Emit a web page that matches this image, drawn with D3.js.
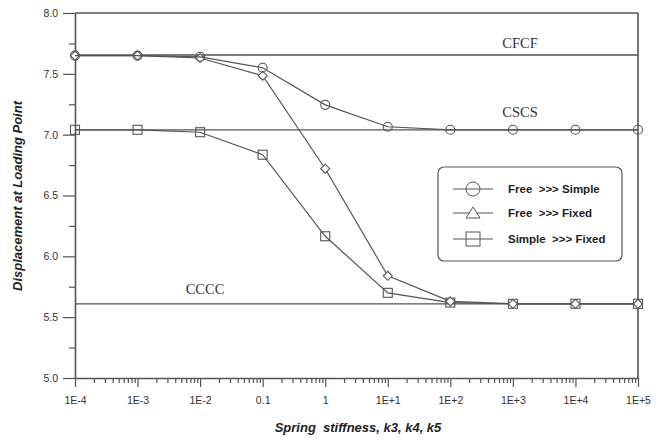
<!DOCTYPE html>
<html><head><meta charset="utf-8">
<script src="https://cdn.jsdelivr.net/npm/d3@7"></script>
<style>body{margin:0;background:#fff}svg{display:block}</style>
</head><body>
<svg id="c" width="667" height="442"></svg>
<script>
const xValues = [1e-4, 1e-3, 1e-2, 0.1, 1, 10, 100, 1000, 1e4, 1e5];
const xTickLabels = ["1E-4","1E-3","1E-2","0.1","1","1E+1","1E+2","1E+3","1E+4","1E+5"];
const yTicks = [5.0, 5.5, 6.0, 6.5, 7.0, 7.5, 8.0];
const freeSimple = [7.65, 7.65, 7.64, 7.55, 7.245, 7.065, 7.04, 7.04, 7.04, 7.04];
const freeFixed  = [7.65, 7.65, 7.63, 7.485, 6.72, 5.84, 5.63, 5.61, 5.61, 5.61];
const simpleFixed= [7.04, 7.04, 7.02, 6.835, 6.165, 5.70, 5.62, 5.61, 5.61, 5.61];
const refNames = ["CFCF","CSCS","CCCC"];
const refValues = [7.655, 7.04, 5.61];
const legendNames = ["Free  >>> Simple","Free  >>> Fixed","Simple  >>> Fixed"];

const svg = d3.select("#c");
const L=75, R=638, T=13, B=378;
const x = d3.scaleLog().domain([1e-4,1e5]).range([L,R]);
const y = d3.scaleLinear().domain([5,8]).range([B,T]);
const col = "#555";

// reference lines
const refLabelPos = [[520,48],[520,117],[205,294]];
refValues.forEach((v,i)=>{
  svg.append("line").attr("x1",L).attr("x2",R).attr("y1",y(v)).attr("y2",y(v))
    .attr("stroke",col).attr("stroke-width",1.3);
  svg.append("text").attr("x",refLabelPos[i][0]).attr("y",refLabelPos[i][1])
    .attr("text-anchor","middle").attr("font-family","Liberation Serif, Times New Roman, serif")
    .attr("font-size",14.5).attr("fill","#333").text(refNames[i]);
});

// axes
const minorX = [];
for (let e=-4;e<5;e++) for (let k=2;k<=9;k++) minorX.push(k*Math.pow(10,e));
const xAxis = d3.axisBottom(x).tickValues(xValues).tickFormat((d,i)=>xTickLabels[i]).tickSize(9).tickSizeOuter(0);
const gx = svg.append("g").attr("transform",`translate(0,${B})`).call(xAxis);
svg.append("g").attr("transform",`translate(0,${B})`)
  .call(d3.axisBottom(x).tickValues(minorX).tickFormat("").tickSize(5).tickSizeOuter(0))
  .select(".domain").remove();
const yAxis = d3.axisLeft(y).tickValues(yTicks).tickFormat(d3.format(".1f")).tickSize(12).tickSizeOuter(0);
const gy = svg.append("g").attr("transform",`translate(${L},0)`).call(yAxis);
svg.append("g").attr("transform",`translate(${L},0)`)
  .call(d3.axisLeft(y).tickValues([5.25,5.75,6.25,6.75,7.25,7.75]).tickFormat("").tickSize(6).tickSizeOuter(0))
  .select(".domain").remove();
svg.selectAll(".domain").attr("stroke",col).attr("stroke-width",1.6);
svg.selectAll(".tick line").attr("stroke",col).attr("stroke-width",1.2);
svg.selectAll(".tick text").attr("font-family","Liberation Sans, Arial, sans-serif").attr("font-size",10.5).attr("fill","#333");
gx.selectAll(".tick text").attr("y",19).attr("dy","0.71em");
gy.selectAll(".tick text").attr("x",-17);

// frame top/right
svg.append("line").attr("x1",L).attr("x2",R).attr("y1",T).attr("y2",T).attr("stroke",col).attr("stroke-width",1.6);
svg.append("line").attr("x1",R).attr("x2",R).attr("y1",T).attr("y2",B).attr("stroke",col).attr("stroke-width",1.6);

// series
const line = d3.line().x((d,i)=>x(xValues[i])).y(d=>y(d));
function drawSeries(vals, shape){
  svg.append("path").datum(vals).attr("d",line).attr("fill","none").attr("stroke",col).attr("stroke-width",1.2);
  vals.forEach((v,i)=>drawMarker(x(xValues[i]), y(v), shape));
}
function drawMarker(cx, cy, shape){
  if (shape==="circle") svg.append("circle").attr("cx",cx).attr("cy",cy).attr("r",4.5).attr("fill","none").attr("stroke",col).attr("stroke-width",1.1);
  else if (shape==="diamond") svg.append("path").attr("d",`M${cx},${cy-4.5}L${cx+4.5},${cy}L${cx},${cy+4.5}L${cx-4.5},${cy}Z`).attr("fill","#fff").attr("stroke",col).attr("stroke-width",1.1);
  else if (shape==="square") svg.append("rect").attr("x",cx-4.5).attr("y",cy-4.5).attr("width",9).attr("height",9).attr("fill","none").attr("stroke",col).attr("stroke-width",1.1);
}
drawSeries(simpleFixed,"square");
drawSeries(freeFixed,"diamond");
drawSeries(freeSimple,"circle");

// legend
svg.append("rect").attr("x",438).attr("y",167).attr("width",184).attr("height",94).attr("rx",6)
  .attr("fill","#fff").attr("stroke",col).attr("stroke-width",1.2);
const legendShapes = ["circle","triangle","square"];
const rowsY = [189,213,239];
legendNames.forEach((n,i)=>{
  svg.append("line").attr("x1",453).attr("x2",493).attr("y1",rowsY[i]).attr("y2",rowsY[i]).attr("stroke",col).attr("stroke-width",1);
  if (legendShapes[i]==="circle") svg.append("circle").attr("cx",473).attr("cy",rowsY[i]).attr("r",7).attr("fill","none").attr("stroke",col).attr("stroke-width",1);
  else if (legendShapes[i]==="triangle") svg.append("path").attr("d",`M473,${rowsY[i]-6}L480,${rowsY[i]+5}L466,${rowsY[i]+5}Z`).attr("fill","#fff").attr("stroke",col).attr("stroke-width",1);
  else svg.append("rect").attr("x",466).attr("y",rowsY[i]-7).attr("width",14).attr("height",14).attr("fill","none").attr("stroke",col).attr("stroke-width",1);
  svg.append("text").attr("x",508).attr("y",rowsY[i]+4).attr("font-family","Liberation Sans, Arial, sans-serif")
    .attr("font-weight","bold").attr("font-size",11.5).attr("fill","#222").style("white-space","pre").text(n);
});

// titles
svg.append("text").attr("x",358).attr("y",432).attr("text-anchor","middle")
  .attr("font-family","Liberation Sans, Arial, sans-serif").attr("font-weight","bold").attr("font-style","italic")
  .attr("font-size",13).attr("fill","#222").style("white-space","pre").text("Spring  stiffness, k3, k4, k5");
svg.append("text").attr("transform","translate(22,196) rotate(-90)").attr("text-anchor","middle")
  .attr("font-family","Liberation Sans, Arial, sans-serif").attr("font-weight","bold").attr("font-style","italic")
  .attr("font-size",13).attr("fill","#222").text("Displacement at Loading Point");
</script>
</body></html>
